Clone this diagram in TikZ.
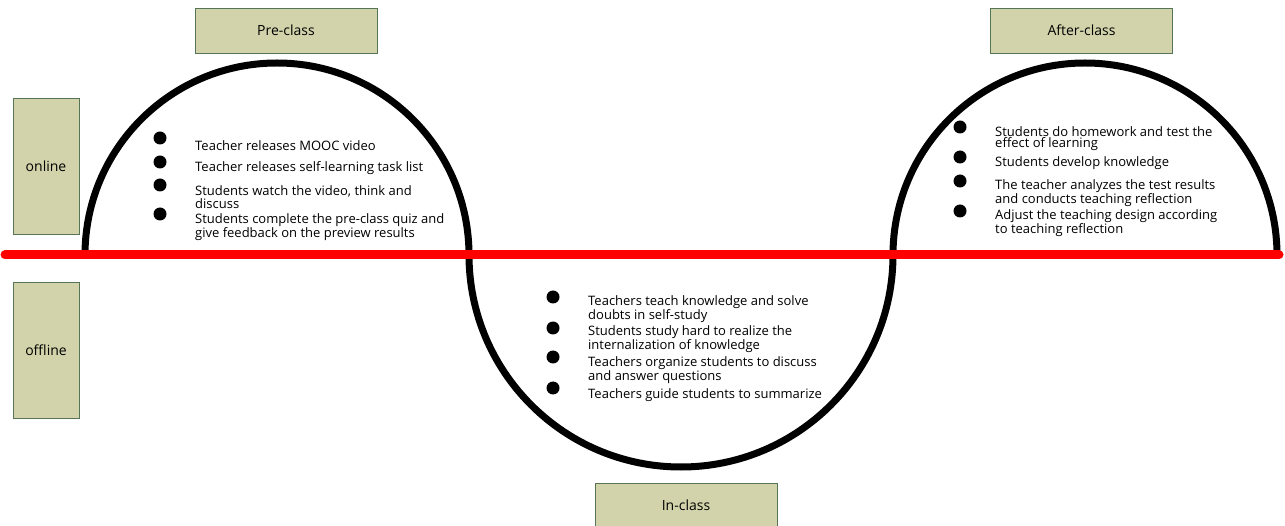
\documentclass[tikz,border=0pt]{standalone}
\usepackage{fontspec}
\setmainfont{Open Sans}
\usetikzlibrary{positioning}
\definecolor{boxfill}{RGB}{211,211,171}
\definecolor{boxline}{RGB}{86,116,86}

\begin{document}
\begin{tikzpicture}[
    x=1pt, y=-1pt,
    box/.style={rectangle, draw=boxline, fill=boxfill, line width=0.8pt, inner sep=0pt, font=\fontsize{14}{14}\selectfont},
    dot/.style={circle, fill=black, inner sep=0pt, minimum size=13pt},
    item/.style={anchor=west, align=left, inner sep=0pt, font=\fontsize{13}{11}\selectfont},
    curve/.style={line width=7pt},
    axis/.style={draw=red, line width=9pt, line cap=round}
]
\useasboundingbox (0,0) rectangle (1285,526);
\clip (0,0) rectangle (1285,526);

% 阶段标签
\node[box, minimum width=182pt, minimum height=45pt] (pre) at (286,30.5) {Pre-class};
\node[box, minimum width=182pt, minimum height=45pt] (after) at (1081.5,30.5) {After-class};
\node[box, minimum width=182pt, minimum height=45pt] (in) at (686,505.5) {In-class};

% 线上 / 线下
\node[box, minimum width=66pt, minimum height=136pt] (online) at (46,166) {online};
\node[box, minimum width=66pt, minimum height=136pt] (offline) at (46,350) {offline};

% S 形曲线
\coordinate (start) at (85,255);
\draw[curve] (start) arc[start angle=180, end angle=0, radius=192pt] coordinate (j1)
    arc[start angle=180, end angle=360, radius=212pt] coordinate (j2)
    arc[start angle=180, end angle=0, radius=192pt] coordinate (stop);

% 分界线
\coordinate (left) at (5,255);
\coordinate (right) at (1279,255);
\draw[axis] (left) -- (right);

% 课前
\node[dot] (preDot1) at (160,138) {};
\node[dot] (preDot2) at (160,162) {};
\node[dot] (preDot3) at (160,185) {};
\node[dot] (preDot4) at (160,214) {};
\node[item] (pre1) at (195,146) {Teacher releases MOOC video};
\node[item] (pre2) at (195,168) {Teacher releases self-learning task list};
\node[item] (pre3) at (195,197) {Students watch the video, think and\\discuss};
\node[item] (pre4) at (195,227) {Students complete the pre-class quiz and\\give feedback on the preview results};

% 课中
\node[dot] (inDot1) at (553,297) {};
\node[dot] (inDot2) at (553,328) {};
\node[dot] (inDot3) at (553,357) {};
\node[dot] (inDot4) at (553,388) {};
\node[item] (in1) at (588,309) {Teachers teach knowledge and solve\\doubts in self-study};
\node[item] (in2) at (588,339) {Students study hard to realize the\\internalization of knowledge};
\node[item] (in3) at (588,370.5) {Teachers organize students to discuss\\and answer questions};
\node[item] (in4) at (588,395) {Teachers guide students to summarize};

% 课后
\node[dot] (afterDot1) at (960,127) {};
\node[dot] (afterDot2) at (960,157) {};
\node[dot] (afterDot3) at (960,181) {};
\node[dot] (afterDot4) at (960,211) {};
\node[item] (after1) at (995,139) {Students do homework and test the\\effect of learning};
\node[item] (after2) at (995,163) {Students develop knowledge};
\node[item] (after3) at (995,193) {The teacher analyzes the test results\\and conducts teaching reflection};
\node[item] (after4) at (995,223) {Adjust the teaching design according\\to teaching reflection};

\end{tikzpicture}
\end{document}
